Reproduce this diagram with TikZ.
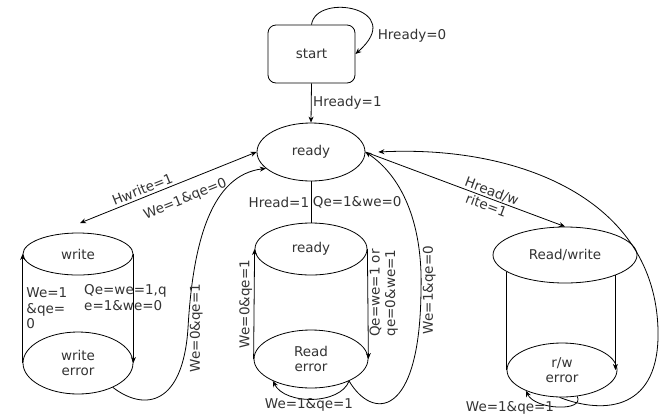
\documentclass[tikz,border=0pt]{standalone}
\usepackage{fontspec}
\setmainfont{DejaVu Sans}
\usetikzlibrary{arrows.meta,shapes.geometric}
\begin{document}
\begin{tikzpicture}[x=1pt,y=-1pt,
  every node/.style={font=\fontsize{13.5}{15.5}\selectfont, text=black!80},
  stnode/.style={ellipse, draw, inner sep=0pt, align=center},
  lbl/.style={inner sep=1.5pt},
  tip/.style={-{Stealth[length=6pt,width=5pt]}},
  line width=0.8pt]
\useasboundingbox (0,0) rectangle (664,416);
% states
\node[draw, rounded corners=8pt, minimum width=87pt, minimum height=58pt] (st) at (311.5,54) {start};
\node[stnode, minimum width=108pt, minimum height=58pt] (rd) at (311,152) {ready};
\node[stnode, minimum width=110pt, minimum height=42pt] (wr) at (78,254) {write};
\node[stnode, minimum width=110pt, minimum height=62pt] (we) at (78,363) {write\\error};
\node[stnode, minimum width=112pt, minimum height=52pt] (rd2) at (311,249) {ready};
\node[stnode, minimum width=114pt, minimum height=58pt] (re) at (311,359) {Read\\error};
\node[stnode, minimum width=144pt, minimum height=56pt] (rw) at (565,255) {Read/write};
\node[stnode, minimum width=110pt, minimum height=54pt] (rwe) at (562,370) {r/w\\error};
\coordinate (wrtop) at (80,223);
\coordinate (rdin) at ([xshift=13pt]rd.east);
% start
\draw[tip] (st.north) .. controls (316,-8) and (408,8) .. (st.east);
\node[lbl] (l0) at (412,36) {Hready=0};
\draw[tip] (st.south) -- (rd.north) node[midway, right, lbl] {Hready=1};
% write branch
\draw[{Stealth[length=6pt,width=5pt]}-{Stealth[length=6pt,width=5pt]}] (wrtop) -- (rd.west)
  node[pos=.37, sloped, above=1pt, lbl] {Hwrite=1}
  node[pos=.56, sloped, below=9pt, lbl] {We=1\&qe=0};
\draw[tip] (we.west) -- (wr.west) node[midway, anchor=west, align=left, lbl, xshift=2pt] {We=1\\\&qe=\\0};
\draw[tip] (wr.east) -- (we.east) node[pos=.4, xshift=-8pt, align=left, lbl] {Qe=we=1,q\\e=1\&we=0};
\draw[tip] (we.-35) .. controls (145,412) and (183,405) .. (188,328)
  node[pos=1, rotate=90, anchor=north, lbl] {We=0\&qe=1}
  .. controls (193,240) and (212,175) .. (rd.200);
% read branch
\draw (rd.south) -- (rd2.north) node[midway, left, lbl] {Hread=1} node[midway, right, lbl] {Qe=1\&we=0};
\draw[tip] (re.west) -- (rd2.west) node[midway, rotate=90, anchor=south, lbl] {We=0\&qe=1};
\draw[tip] (rd2.east) -- (re.east) node[pos=.4, rotate=90, anchor=north, align=center, lbl] {Qe=we=1 or\\qe=0\&we=1};
\draw[tip] (re.-30) .. controls (340,405) and (285,405) .. (re.-150);
\node[lbl] (l1) at (309,405) {We=1\&qe=1};
\draw[tip] (re.-30) .. controls (372,420) and (420,420) .. (421,290)
  node[pos=1, rotate=90, anchor=north, lbl] {We=1\&qe=0}
  .. controls (423,220) and (400,175) .. (rd.east);
% read/write branch
\draw[tip] (rd.east) -- (rw.north) node[pos=.62, sloped, align=center, lbl] {Hread/w\\rite=1};
\draw (rw.196) -- (rw.196 |- rwe.west);
\draw[tip] (rw.-22) -- (rw.-22 |- rwe.east);
\draw[tip] (rwe.-60) .. controls (585,412) and (535,410) .. (rwe.-150);
\node[lbl] (l2) at (510,408) {We=1\&qe=1};
\draw[tip] (rwe.-95) .. controls (605,415) and (660,410) .. (658,330) .. controls (655,200) and (520,145) .. (rdin);
\end{tikzpicture}
\end{document}
